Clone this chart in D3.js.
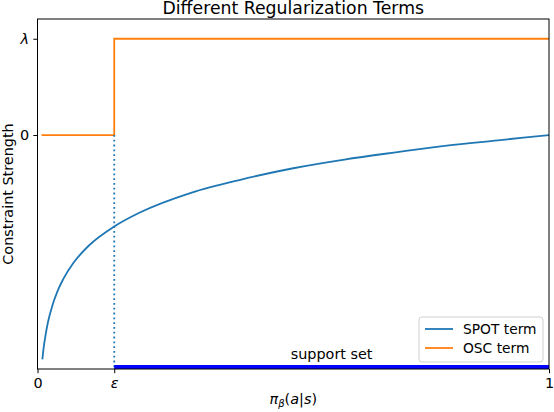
<!DOCTYPE html>
<html>
<head>
<meta charset="utf-8">
<script src="https://cdn.jsdelivr.net/npm/d3@7"></script>
<style>
  body { margin: 0; background: #fff; }
  text { font-family: "DejaVu Sans", sans-serif; fill: #000; }
</style>
</head>
<body>
<div id="chart"></div>
<script>
// Values
var epsilon = 0.15;
var lambda = 2;

var xTickValues = [0, epsilon, 1];
var xTickLabels = ["0", "ε", "1"];
var yTickValues = [0, lambda];
var yTickLabels = ["0", "λ"];

// SPOT term curve
var spotX = [0.0095, 0.012, 0.016, 0.02, 0.03, 0.04, 0.05, 0.07, 0.1, 0.15, 0.2, 0.3, 0.4, 0.5, 0.6, 0.7, 0.8, 0.9, 1.0];
var spotY = [-4.66, -4.42, -4.14, -3.91, -3.51, -3.22, -3.0, -2.66, -2.3, -1.9, -1.61, -1.2, -0.92, -0.69, -0.51, -0.36, -0.22, -0.11, 0];

// OSC term step
var oscX = [0.008, epsilon, epsilon, 1];
var oscY = [0, 0, lambda, lambda];

// support set band
var supportX = [epsilon, 1];
var supportY = -4.82;

var seriesNames = ["SPOT term", "OSC term"];
var seriesColors = ["#1f77b4", "#ff7f0e"];

// Chart layout
var svgWidth = 554;
var svgHeight = 412;
var margin = { top: 19, right: 5, bottom: 43, left: 37.5 };
var width = svgWidth - margin.left - margin.right;
var height = svgHeight - margin.top - margin.bottom;
var fontSize = "14.4px";

var svg = d3.select("#chart")
    .append("svg")
    .attr("width", svgWidth)
    .attr("height", svgHeight);

var chartGroup = svg.append("g")
    .attr("transform", `translate(${margin.left}, ${margin.top})`);

var xScale = d3.scaleLinear().domain([0, 1]).range([0, width]);
var yScale = d3.scaleLinear().domain([-4.86, 2.41]).range([height, 0]);

svg.append("defs").append("clipPath").attr("id", "plotClip")
    .append("rect").attr("width", width).attr("height", height);

var plot = chartGroup.append("g").attr("clip-path", "url(#plotClip)");

var line = d3.line()
    .x(d => xScale(d[0]))
    .y(d => yScale(d[1]));

// SPOT curve
plot.append("path")
    .datum(spotX.map((x, i) => [x, spotY[i]]))
    .attr("d", line.curve(d3.curveMonotoneX))
    .attr("fill", "none")
    .attr("stroke", seriesColors[0])
    .attr("stroke-width", 1.8);

// OSC step
plot.append("path")
    .datum(oscX.map((x, i) => [x, oscY[i]]))
    .attr("d", d3.line().x(d => xScale(d[0])).y(d => yScale(d[1])))
    .attr("fill", "none")
    .attr("stroke", seriesColors[1])
    .attr("stroke-width", 1.8);

// dotted epsilon line
plot.append("line")
    .attr("x1", xScale(epsilon)).attr("x2", xScale(epsilon))
    .attr("y1", yScale(0)).attr("y2", height)
    .attr("stroke", seriesColors[0])
    .attr("stroke-width", 1.8)
    .attr("stroke-dasharray", "1.8,3");

// support set line
plot.append("line")
    .attr("x1", xScale(supportX[0])).attr("x2", xScale(supportX[1]))
    .attr("y1", yScale(supportY)).attr("y2", yScale(supportY))
    .attr("stroke", "#0000ff")
    .attr("stroke-width", 4);

chartGroup.append("text")
    .attr("x", xScale((supportX[0] + supportX[1]) / 2))
    .attr("y", yScale(-4.65))
    .attr("text-anchor", "middle")
    .attr("font-size", fontSize)
    .text("support set");

// Axes
var xAxis = d3.axisBottom(xScale)
    .tickValues(xTickValues)
    .tickFormat((d, i) => xTickLabels[i])
    .tickSize(4.2)
    .tickPadding(4.2);

var yAxis = d3.axisLeft(yScale)
    .tickValues(yTickValues)
    .tickFormat((d, i) => yTickLabels[i])
    .tickSize(4.2)
    .tickPadding(4.2);

var gx = chartGroup.append("g")
    .attr("transform", `translate(0, ${height})`)
    .call(xAxis);

var gy = chartGroup.append("g").call(yAxis);

[gx, gy].forEach(function(g) {
    g.select(".domain").remove();
    g.selectAll("text")
        .attr("font-size", fontSize)
        .attr("font-family", "DejaVu Sans")
        .attr("fill", "#000");
    g.selectAll("line").attr("stroke", "#000").attr("stroke-width", 1);
});
gx.selectAll("text").filter((d, i) => i === 1).attr("font-style", "italic");
gy.selectAll("text").filter((d, i) => i === 1).attr("font-style", "italic");

// Frame
chartGroup.append("rect")
    .attr("width", width)
    .attr("height", height)
    .attr("fill", "none")
    .attr("stroke", "#000")
    .attr("stroke-width", 1);

// Title
chartGroup.append("text")
    .attr("x", width / 2)
    .attr("y", -5.5)
    .attr("text-anchor", "middle")
    .attr("font-size", "17.3px")
    .text("Different Regularization Terms");

// Axis labels
chartGroup.append("text")
    .attr("transform", `translate(${12.5 - margin.left}, ${height / 2}) rotate(-90)`)
    .attr("text-anchor", "middle")
    .attr("font-size", fontSize)
    .text("Constraint Strength");

var xLabel = chartGroup.append("text")
    .attr("x", width / 2)
    .attr("y", height + 35)
    .attr("text-anchor", "middle")
    .attr("font-size", fontSize);
xLabel.append("tspan").attr("font-style", "italic").text("π");
xLabel.append("tspan").attr("font-style", "italic").attr("font-size", "10px").attr("dy", 3).text("β");
xLabel.append("tspan").attr("dy", -3).text("(");
xLabel.append("tspan").attr("font-style", "italic").text("a");
xLabel.append("tspan").text("|");
xLabel.append("tspan").attr("font-style", "italic").text("s");
xLabel.append("tspan").text(")");

// Legend
var legend = chartGroup.append("g")
    .attr("transform", `translate(${419 - margin.left}, ${317 - margin.top})`);

legend.append("rect")
    .attr("width", 124)
    .attr("height", 45)
    .attr("rx", 3)
    .attr("fill", "#fff")
    .attr("fill-opacity", 0.8)
    .attr("stroke", "#d0d0d0")
    .attr("stroke-width", 1);

seriesNames.forEach(function(name, i) {
    var rowY = 12 + i * 19;
    legend.append("line")
        .attr("x1", 6).attr("x2", 34)
        .attr("y1", rowY).attr("y2", rowY)
        .attr("stroke", seriesColors[i])
        .attr("stroke-width", 1.8);
    legend.append("text")
        .attr("x", 44)
        .attr("y", rowY + 5)
        .attr("font-size", "13.8px")
        .text(name);
});
</script>
</body>
</html>
